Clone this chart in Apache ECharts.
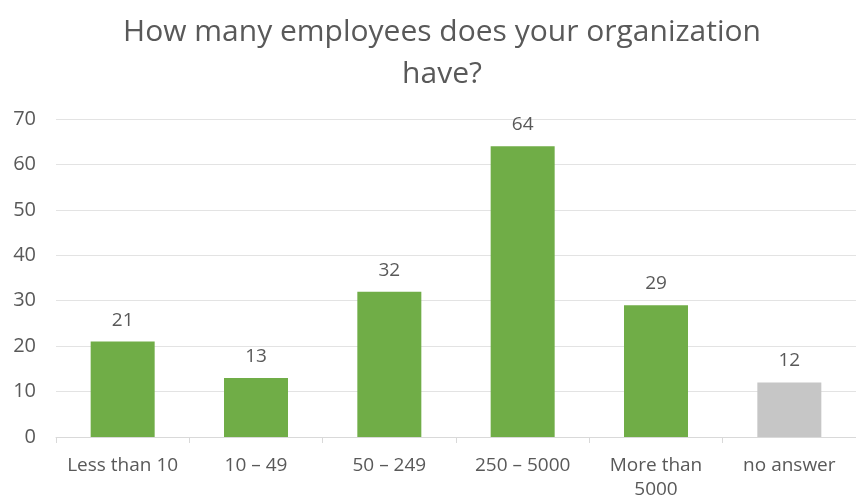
<!DOCTYPE html>
<html>
<head>
<meta charset="utf-8">
<script src="https://cdn.jsdelivr.net/npm/echarts@6/dist/echarts.min.js"></script>
<style>
  html, body { margin: 0; padding: 0; background: #fff; }
  #chart { width: 856px; height: 502px; }
</style>
</head>
<body>
<div id="chart"></div>
<script>
// Survey: company size of respondents
const titleText = 'How many employees does your organization\nhave?';
const categories = ['Less than 10', '10 – 49', '50 – 249', '250 – 5000', 'More than\n5000', 'no answer'];
const counts = [21, 13, 32, 64, 29, 12];
const barColors = ['#70AD47', '#70AD47', '#70AD47', '#70AD47', '#70AD47', '#C6C6C6'];
const yTicks = { min: 0, max: 70, interval: 10 };

const textColor = '#595959';
const fontFamily = '"Open Sans", "Noto Sans", sans-serif';

const chart = echarts.init(document.getElementById('chart'), null, { renderer: 'canvas' });

chart.setOption({
  backgroundColor: '#ffffff',
  animation: false,
  title: {
    text: titleText,
    left: 442,
    textAlign: 'center',
    top: 11,
    padding: 0,
    textStyle: {
      color: textColor,
      fontFamily: fontFamily,
      fontWeight: 'normal',
      fontSize: 30,
      lineHeight: 42
    }
  },
  grid: { left: 56, right: -7, top: 119, bottom: 65 },
  xAxis: {
    type: 'category',
    data: categories,
    axisLine: { lineStyle: { color: '#D9D9D9', width: 1 } },
    axisTick: { show: true, alignWithLabel: false, length: 6, lineStyle: { color: '#D9D9D9' } },
    axisLabel: {
      color: textColor,
      fontFamily: fontFamily,
      fontSize: 19,
      margin: 17,
      lineHeight: 24,
      interval: 0
    }
  },
  yAxis: {
    type: 'value',
    min: yTicks.min,
    max: yTicks.max,
    interval: yTicks.interval,
    axisLine: { show: false },
    axisTick: { show: false },
    splitLine: { lineStyle: { color: '#E3E3E3', width: 1 } },
    axisLabel: {
      color: textColor,
      fontFamily: fontFamily,
      fontSize: 20,
      margin: 20
    }
  },
  series: [{
    type: 'bar',
    data: counts.map((v, i) => ({ value: v, itemStyle: { color: barColors[i] } })),
    barWidth: '48%',
    label: {
      show: true,
      position: 'top',
      distance: 12,
      color: textColor,
      fontFamily: fontFamily,
      fontSize: 19
    }
  }]
});
</script>
</body>
</html>
